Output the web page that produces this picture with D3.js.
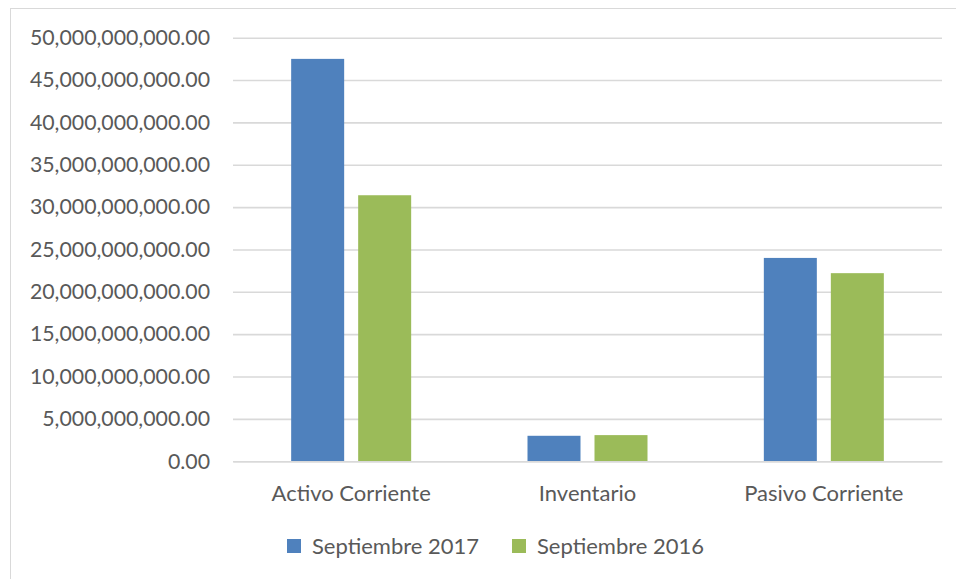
<!DOCTYPE html>
<html><head><meta charset="utf-8">
<script src="https://cdn.jsdelivr.net/npm/d3@7"></script>
<style>
html,body{margin:0;padding:0;background:#fff;}
svg{display:block;font-family:Lato, "Open Sans", sans-serif;}
</style></head>
<body>
<script>
const categories = ["Activo Corriente", "Inventario", "Pasivo Corriente"];
const seriesNames = ["Septiembre 2017", "Septiembre 2016"];
const sep2017 = [47.5e9, 3.0e9, 24.0e9];
const sep2016 = [31.4e9, 3.08e9, 22.2e9];
const yTicks = [0, 5e9, 10e9, 15e9, 20e9, 25e9, 30e9, 35e9, 40e9, 45e9, 50e9];
const colors = ["#4f81bd", "#9bbb59"];

const W = 956, H = 579;
const svg = d3.select("body").append("svg").attr("width", W).attr("height", H);

// outer border
svg.append("rect").attr("x", 10.5).attr("y", 8.5).attr("width", W).attr("height", H)
  .attr("fill", "none").attr("stroke", "#d9d9d9").attr("stroke-width", 1);

const plotLeft = 233, plotRight = 942, plotTop = 37.7, plotBottom = 461.2;
const y = d3.scaleLinear().domain([0, 50e9]).range([plotBottom, plotTop]);
const x0 = d3.scaleBand().domain(categories).range([plotLeft, plotRight]);
const groupW = 120;
const x1 = d3.scaleBand().domain(seriesNames)
  .range([(x0.bandwidth() - groupW) / 2, (x0.bandwidth() + groupW) / 2])
  .paddingInner(0.209);

// gridlines
const yAxis = d3.axisLeft(y).tickValues(yTicks)
  .tickSize(-(plotRight - plotLeft)).tickPadding(23)
  .tickFormat(d3.format(",.2f"));
const gy = svg.append("g").attr("transform", `translate(${plotLeft},0)`).call(yAxis);
gy.select(".domain").remove();
gy.selectAll(".tick line").attr("stroke", "#d9d9d9").attr("stroke-width", 1.6);
gy.selectAll(".tick text").attr("fill", "#595959").style("font-size", "21.3px")
  .attr("font-family", "Lato, 'Open Sans', sans-serif");

// bars
const data = categories.map((c, i) => ({ cat: c, vals: [sep2017[i], sep2016[i]] }));
const groups = svg.append("g").selectAll("g").data(data).join("g")
  .attr("transform", d => `translate(${x0(d.cat)},0)`);
groups.selectAll("rect").data(d => d.vals.map((v, j) => ({ v, s: seriesNames[j], j })))
  .join("rect")
  .attr("x", d => x1(d.s))
  .attr("width", x1.bandwidth())
  .attr("y", d => y(d.v))
  .attr("height", d => y(0) - y(d.v))
  .attr("fill", d => colors[d.j]);

// x axis
const xAxis = d3.axisBottom(x0).tickSize(0).tickPadding(24);
const gx = svg.append("g").attr("transform", `translate(0,${plotBottom})`).call(xAxis);
gx.select(".domain").attr("stroke", "#d9d9d9").attr("stroke-width", 1.6);
gx.selectAll(".tick text").attr("fill", "#595959").style("font-size", "22px")
  .attr("font-family", "Lato, 'Open Sans', sans-serif");

// legend
const legendX = [287, 512];
const lg = svg.append("g").selectAll("g").data(seriesNames).join("g")
  .attr("transform", (d, i) => `translate(${legendX[i]},539)`);
lg.append("rect").attr("width", 14).attr("height", 14).attr("fill", (d, i) => colors[i]);
lg.append("text").attr("x", 25).attr("y", 14.5).attr("fill", "#595959")
  .style("font-size", "22px").text(d => d);
</script>
</body></html>
